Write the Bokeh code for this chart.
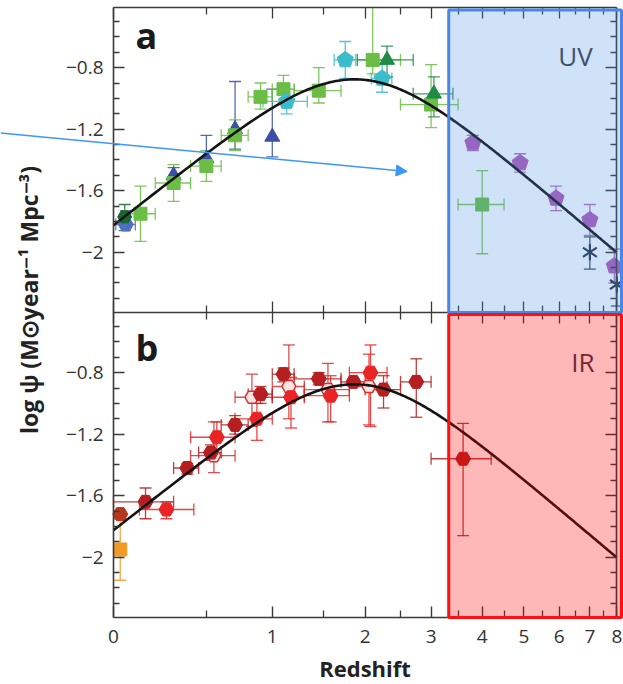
import numpy as np
from bokeh.plotting import figure
from bokeh.models import (ColumnDataSource, Whisker, TeeHead, BoxAnnotation, Label, Arrow,
                          NormalHead, FixedTicker, CustomJSTickFormatter, Range1d, LinearAxis)
from bokeh.embed import file_html
from bokeh.resources import INLINE

# ---------------- panel a: rest-frame UV measurements ----------------
wyder_z = [0.055]
wyder_zlo = [0.01]
wyder_zhi = [0.1]
wyder_v = [-1.82]
wyder_up = [0.09]
wyder_dn = [0.02]

robotham_z = [0.05]
robotham_v = [-1.77]
robotham_up = [0.08]
robotham_dn = [0.09]

schim_z = [0.3, 0.5, 0.7, 1.0]
schim_v = [-1.50, -1.39, -1.20, -1.25]
schim_up = [0.05, 0.15, 0.31, 0.31]
schim_dn = [0.05, 0.08, 0.13, 0.13]

cucc_z = [0.125, 0.3, 0.5, 0.7, 0.9, 1.1, 1.45, 2.1, 3.0, 4.0]
cucc_zlo = [0.05, 0.2, 0.4, 0.6, 0.8, 1.0, 1.2, 1.7, 2.5, 3.5]
cucc_zhi = [0.2, 0.4, 0.6, 0.8, 1.0, 1.2, 1.7, 2.5, 3.5, 4.5]
cucc_v = [-1.75, -1.55, -1.44, -1.24, -0.99, -0.94, -0.95, -0.75, -1.04, -1.69]
cucc_up = [0.18, 0.12, 0.10, 0.10, 0.09, 0.09, 0.15, 0.49, 0.26, 0.22]
cucc_dn = [0.18, 0.12, 0.10, 0.10, 0.08, 0.09, 0.08, 0.09, 0.15, 0.32]

dahlen_z = [1.13, 1.75, 2.23]
dahlen_zlo = [0.92, 1.62, 2.08]
dahlen_zhi = [1.33, 1.88, 2.37]
dahlen_v = [-1.02, -0.75, -0.87]
dahlen_err = [0.08, 0.12, 0.09]

reddy_z = [2.3, 3.05]
reddy_zlo = [1.9, 2.7]
reddy_zhi = [2.7, 3.4]
reddy_v = [-0.75, -0.97]
reddy_up = [0.09, 0.11]
reddy_dn = [0.11, 0.15]

bouwens_z = [3.8, 4.9, 5.9, 7.0, 7.9]
bouwens_v = [-1.29, -1.42, -1.65, -1.79, -2.09]
bouwens_err = [0.05, 0.06, 0.08, 0.10, 0.11]

schenker_z = [7.0, 8.0]
schenker_v = [-2.00, -2.21]
schenker_up = [0.10, 0.14]
schenker_dn = [0.11, 0.14]

# ---------------- panel b: infrared measurements ----------------
sanders_z = [0.03]
sanders_v = [-1.72]
sanders_up = [0.02]
sanders_dn = [0.03]

takeuchi_z = [0.03]
takeuchi_v = [-1.95]
takeuchi_err = [0.20]

grupp_z = [0.15, 0.38, 0.53, 0.70, 0.90, 1.10, 1.45, 1.85, 2.25, 2.75, 3.6]
grupp_zlo = [0.0, 0.3, 0.45, 0.6, 0.8, 1.0, 1.2, 1.7, 2.0, 2.5, 3.0]
grupp_zhi = [0.3, 0.45, 0.6, 0.8, 1.0, 1.2, 1.7, 2.0, 2.5, 3.0, 4.2]
grupp_v = [-1.64, -1.42, -1.32, -1.14, -0.94, -0.81, -0.84, -0.86, -0.91, -0.86, -1.36]
grupp_up = [0.09, 0.03, 0.05, 0.06, 0.05, 0.04, 0.04, 0.02, 0.09, 0.15, 0.23]
grupp_dn = [0.11, 0.04, 0.05, 0.06, 0.06, 0.05, 0.04, 0.03, 0.12, 0.23, 0.50]

mag13_z = [0.26, 0.57, 0.87, 1.17, 1.58, 2.07]
mag13_zlo = [0.12, 0.4, 0.7, 1.0, 1.3, 1.8]
mag13_zhi = [0.42, 0.7, 1.0, 1.3, 1.8, 2.3]
mag13_v = [-1.69, -1.22, -1.10, -0.96, -0.95, -0.80]
mag13_up = [0.05, 0.10, 0.10, 0.13, 0.13, 0.18]
mag13_dn = [0.06, 0.12, 0.14, 0.20, 0.17, 0.35]

mag11_z = [0.55, 0.83, 1.15, 1.55, 2.05]
mag11_zlo = [0.4, 0.7, 1.0, 1.3, 1.8]
mag11_zhi = [0.7, 1.0, 1.3, 1.8, 2.3]
mag11_v = [-1.34, -0.96, -0.89, -0.91, -0.89]
mag11_up = [0.22, 0.15, 0.27, 0.17, 0.21]
mag11_dn = [0.11, 0.19, 0.21, 0.21, 0.25]

# best-fit star-formation history: psi = A (1+z)^a / (1 + ((1+z)/b)^c)
FIT_NORM, FIT_A, FIT_B, FIT_C = 0.015, 2.7, 2.9, 5.6

z_ticks = [0, 1, 2, 3, 4, 5, 6, 7, 8]
z_minor_ticks = [0.5, 1.5, 2.5, 3.5, 4.5, 5.5, 6.5, 7.5]
y_ticks = [-2.0, -1.6, -1.2, -0.8]
y_minor_ticks = [-2.3, -2.2, -2.1, -1.9, -1.8, -1.7, -1.5, -1.4, -1.3,
                 -1.1, -1.0, -0.9, -0.7, -0.6, -0.5]

# ---------------- styling ----------------
FONT = "Open Sans"
FRAME = "#3a3a3a"
TEXT = "#333333"
C_WYDER = "#4f6fc4"
C_ROBO = "#1b6631"
C_SCHIM = "#3a4fa6"
C_CUCC = "#6bbd45"
C_DAHLEN = "#3bbccb"
C_REDDY = "#1e8c45"
C_BOUW = "#b05ab9"
C_SCHENK = "#283248"
C_GRUPP = "#b51f1f"
C_MAG13 = "#ea2424"
C_MAG11 = "#d93030"
C_SANDERS = "#b8361e"
C_TAKEUCHI = "#f39a24"
C_ARROW = "#3d98f5"

# ---------------- page geometry (pixels) ----------------
W, H = 623, 684
X0_PX = 113.0          # horizontal position of z = 0
PX_PER_DEX = 527.5     # pixels per dex of (1 + z)
PX_PER_UNIT = 153.8    # pixels per unit of log psi
A_TOP_PX, AB_PX, B_BOT_PX = 7.0, 312.0, 617.0
Y_LO, Y_HI = -2.392, -0.409   # log psi shown in each panel
Z_BOX = 3.32


def lg(z):
    return np.log10(1.0 + np.asarray(z, dtype=float))


def px_x(px):
    return (px - X0_PX) / PX_PER_DEX


def px_ya(py):
    return Y_HI - (py - A_TOP_PX) / PX_PER_UNIT


def px_yb(py):
    return Y_HI - (py - AB_PX) / PX_PER_UNIT


X_AXIS_END = float(lg(8))

p = figure(width=W, height=H,
           x_range=Range1d(px_x(0), px_x(W)),
           y_range=Range1d(px_yb(H), px_yb(0)),
           output_backend="svg", toolbar_location=None, min_border=0,
           x_axis_location=None, y_axis_location=None,
           background_fill_color="white", border_fill_color="white")
p.extra_y_ranges = {"a": Range1d(px_ya(H), px_ya(0))}
p.grid.visible = False
p.outline_line_color = None

y_fmt = CustomJSTickFormatter(code="return '\u2212' + String(Math.abs(tick));")
x_fmt = CustomJSTickFormatter(code="return String(Math.round(Math.pow(10, tick) - 1));")


def tick_axis(side, loc, positions, length, rng="default", bounds=None, line=False):
    """Unlabelled axis at a fixed location that only draws tick marks."""
    ax = LinearAxis(ticker=FixedTicker(ticks=[], minor_ticks=list(positions)),
                    fixed_location=loc, y_range_name=rng)
    ax.major_tick_in = 0
    ax.major_tick_out = 0
    ax.minor_tick_in = length
    ax.minor_tick_out = 0
    ax.minor_tick_line_color = FRAME
    ax.minor_tick_line_width = 1.3
    ax.axis_line_color = FRAME if line else None
    ax.axis_line_width = 1.6
    if bounds is not None:
        ax.bounds = bounds
    p.add_layout(ax, side)


def labelled_axis(side, loc, ticker, fmt, rng="default", bounds=None, major_len=11, minor_len=6):
    ax = LinearAxis(ticker=ticker, formatter=fmt, fixed_location=loc, y_range_name=rng)
    ax.bounds = bounds
    ax.axis_line_color = FRAME
    ax.axis_line_width = 1.6
    ax.major_tick_in = major_len
    ax.major_tick_out = 0
    ax.minor_tick_in = minor_len
    ax.minor_tick_out = 0
    ax.major_tick_line_color = FRAME
    ax.minor_tick_line_color = FRAME
    ax.major_tick_line_width = 1.4
    ax.minor_tick_line_width = 1.3
    ax.major_label_text_font = FONT
    ax.major_label_text_font_size = "19px"
    ax.major_label_text_color = TEXT
    p.add_layout(ax, side)
    return ax


x_major = list(lg(z_ticks))
x_minor = list(lg(z_minor_ticks))
x_bounds = (0.0, X_AXIS_END)
y_bounds = (Y_LO, Y_HI)

# left axes with labels, one per panel
for rng in ("a", "default"):
    ax = labelled_axis("left", 0.0, FixedTicker(ticks=y_ticks, minor_ticks=y_minor_ticks), y_fmt,
                       rng=rng, bounds=y_bounds)
    ax.major_label_standoff = 10

# right-hand tick marks
for rng in ("a", "default"):
    tick_axis("right", X_AXIS_END, y_ticks, 11, rng=rng, bounds=y_bounds, line=True)
    tick_axis("right", X_AXIS_END, y_minor_ticks, 6, rng=rng, bounds=y_bounds)

# top of panel a, shared boundary, and labelled bottom of panel b
tick_axis("above", Y_HI, x_major, 11, rng="a", bounds=x_bounds, line=True)
tick_axis("above", Y_HI, x_minor, 7, rng="a", bounds=x_bounds)
tick_axis("below", Y_LO, x_major, 11, rng="a", bounds=x_bounds, line=True)
tick_axis("below", Y_LO, x_minor, 7, rng="a", bounds=x_bounds)
tick_axis("above", Y_HI, x_major, 11, rng="default", bounds=x_bounds)
tick_axis("above", Y_HI, x_minor, 7, rng="default", bounds=x_bounds)

bottom = labelled_axis("below", Y_LO, FixedTicker(ticks=x_major, minor_ticks=x_minor), x_fmt,
                       rng="default", bounds=x_bounds, major_len=11, minor_len=7)
bottom.major_label_standoff = 13
bottom.axis_label = "Redshift"
bottom.axis_label_text_font = FONT
bottom.axis_label_text_font_style = "bold"
bottom.axis_label_text_font_size = "22px"
bottom.axis_label_text_color = "#222222"
bottom.axis_label_standoff = 6


def vbars(z, v, up, dn, color, rng):
    v = np.asarray(v, dtype=float)
    hi = v + np.asarray(up, dtype=float)
    lo = v - np.asarray(dn, dtype=float)
    x = lg(z)
    inside = hi <= Y_HI
    for mask, capped in ((inside, True), (~inside, False)):
        if not mask.any():
            continue
        src = ColumnDataSource(dict(x=x[mask], lo=lo[mask], hi=np.minimum(hi[mask], Y_HI)))
        w = Whisker(source=src, base="x", lower="lo", upper="hi", dimension="height",
                    line_color=color, line_width=1.3, line_alpha=0.85, level="underlay",
                    y_range_name=rng)
        w.lower_head = TeeHead(size=12, line_color=color, line_width=1.3, line_alpha=0.85)
        w.upper_head = (TeeHead(size=12, line_color=color, line_width=1.3, line_alpha=0.85)
                        if capped else None)
        p.add_layout(w)


def hbars(zlo, zhi, v, color, rng):
    src = ColumnDataSource(dict(y=v, lo=lg(zlo), hi=lg(zhi)))
    w = Whisker(source=src, base="y", lower="lo", upper="hi", dimension="width",
                line_color=color, line_width=1.3, line_alpha=0.85, level="underlay",
                y_range_name=rng)
    w.upper_head = TeeHead(size=12, line_color=color, line_width=1.3, line_alpha=0.85)
    w.lower_head = TeeHead(size=12, line_color=color, line_width=1.3, line_alpha=0.85)
    p.add_layout(w)


def pentagons(z, v, color, rng):
    if hasattr(p, "ngon"):
        p.ngon(x=lg(z), y=v, radius=8.5, radius_units="screen", n=5,
               fill_color=color, line_color=color, y_range_name=rng)
    else:
        p.scatter(x=lg(z), y=v, marker="hex", size=16, fill_color=color, line_color=color,
                  y_range_name=rng)


def fit_curve(rng):
    zc = np.linspace(0.0, 8.0, 400)
    psi = FIT_NORM * (1 + zc) ** FIT_A / (1 + ((1 + zc) / FIT_B) ** FIT_C)
    p.line(lg(zc), np.log10(psi), line_color="#141414", line_width=2.6, y_range_name=rng)


# ---------------- panel a (UV) ----------------
vbars(wyder_z, wyder_v, wyder_up, wyder_dn, C_WYDER, "a")
hbars(wyder_zlo, wyder_zhi, wyder_v, C_WYDER, "a")
vbars(robotham_z, robotham_v, robotham_up, robotham_dn, C_ROBO, "a")
vbars(schim_z, schim_v, schim_up, schim_dn, C_SCHIM, "a")
vbars(cucc_z, cucc_v, cucc_up, cucc_dn, C_CUCC, "a")
hbars(cucc_zlo, cucc_zhi, cucc_v, C_CUCC, "a")
vbars(dahlen_z, dahlen_v, dahlen_err, dahlen_err, C_DAHLEN, "a")
hbars(dahlen_zlo, dahlen_zhi, dahlen_v, C_DAHLEN, "a")
vbars(reddy_z, reddy_v, reddy_up, reddy_dn, C_REDDY, "a")
hbars(reddy_zlo, reddy_zhi, reddy_v, C_REDDY, "a")
vbars(bouwens_z, bouwens_v, bouwens_err, bouwens_err, C_BOUW, "a")
vbars(schenker_z, schenker_v, schenker_up, schenker_dn, C_SCHENK, "a")

p.scatter(lg(wyder_z), wyder_v, marker="hex", size=15, fill_color=C_WYDER, line_color=C_WYDER,
          y_range_name="a")
p.scatter(lg(robotham_z), robotham_v, marker="hex", size=14, fill_color=C_ROBO, line_color=C_ROBO,
          y_range_name="a")
p.scatter(lg(schim_z), schim_v, marker="triangle", size=15, fill_color=C_SCHIM, line_color=C_SCHIM,
          y_range_name="a")
p.scatter(lg(cucc_z), cucc_v, marker="square", size=13, fill_color=C_CUCC, line_color=C_CUCC,
          y_range_name="a")
pentagons(dahlen_z, dahlen_v, C_DAHLEN, "a")
p.scatter(lg(reddy_z), reddy_v, marker="triangle", size=15, fill_color=C_REDDY, line_color=C_REDDY,
          y_range_name="a")
pentagons(bouwens_z, bouwens_v, C_BOUW, "a")
for ang in (0.0, np.pi):
    p.scatter(lg(schenker_z), schenker_v, marker="y", size=16, angle=ang,
              line_color=C_SCHENK, line_width=2.2, y_range_name="a")
fit_curve("a")

# ---------------- panel b (IR) ----------------
vbars(takeuchi_z, takeuchi_v, takeuchi_err, takeuchi_err, C_TAKEUCHI, "default")
vbars(sanders_z, sanders_v, sanders_up, sanders_dn, C_SANDERS, "default")
vbars(mag11_z, mag11_v, mag11_up, mag11_dn, C_MAG11, "default")
hbars(mag11_zlo, mag11_zhi, mag11_v, C_MAG11, "default")
vbars(mag13_z, mag13_v, mag13_up, mag13_dn, C_MAG13, "default")
hbars(mag13_zlo, mag13_zhi, mag13_v, C_MAG13, "default")
vbars(grupp_z, grupp_v, grupp_up, grupp_dn, C_GRUPP, "default")
hbars(grupp_zlo, grupp_zhi, grupp_v, C_GRUPP, "default")

p.scatter(lg(takeuchi_z), takeuchi_v, marker="square", size=13, fill_color=C_TAKEUCHI,
          line_color=C_TAKEUCHI)
p.scatter(lg(sanders_z), sanders_v, marker="hex", size=15, fill_color=C_SANDERS, line_color=C_SANDERS)
p.scatter(lg(mag11_z), mag11_v, marker="hex", size=14, fill_color="#fbe4e4", line_color=C_MAG11,
          line_width=1.5)
p.scatter(lg(mag13_z), mag13_v, marker="hex", size=15, fill_color=C_MAG13, line_color=C_MAG13)
p.scatter(lg(grupp_z), grupp_v, marker="hex", size=15, fill_color=C_GRUPP, line_color=C_GRUPP)
fit_curve("default")

# ---------------- annotations ----------------
p.add_layout(Label(x=px_x(135), y=px_ya(35), y_range_name="a", text="a", text_font=FONT,
                   text_font_style="bold", text_font_size="36px", text_color="#1a1a1a",
                   text_baseline="alphabetic"))
p.add_layout(Label(x=px_x(135), y=px_yb(347), text="b", text_font=FONT,
                   text_font_style="bold", text_font_size="36px", text_color="#1a1a1a",
                   text_baseline="alphabetic"))
p.add_layout(Label(x=px_x(575), y=px_ya(55), y_range_name="a", text="UV", text_font=FONT,
                   text_font_size="26px", text_color="#3a3a48", text_align="center",
                   text_baseline="middle"))
p.add_layout(Label(x=px_x(582.5), y=px_yb(361.5), text="IR", text_font=FONT,
                   text_font_size="26px", text_color="#3a3a48", text_align="center",
                   text_baseline="middle"))

p.add_layout(BoxAnnotation(left=float(lg(Z_BOX)), right=px_x(621), top=px_ya(9.5), bottom=Y_LO,
                           y_range_name="a", fill_color="#4a90e2", fill_alpha=0.26,
                           line_color="#4a86e8", line_alpha=1.0, line_width=3))
p.add_layout(BoxAnnotation(left=float(lg(Z_BOX)), right=px_x(621), top=px_yb(314), bottom=Y_LO,
                           fill_color="#ff0000", fill_alpha=0.28,
                           line_color="#ff1010", line_alpha=1.0, line_width=3))

p.add_layout(Arrow(x_start=px_x(0), y_start=px_ya(132.4), x_end=px_x(406.7), y_end=px_ya(171),
                   y_range_name="a", line_color=C_ARROW, line_width=1.5,
                   end=NormalHead(size=11, fill_color=C_ARROW, line_color=C_ARROW)))

# shared y-axis title spanning both panels
p.add_layout(Label(x=px_x(28), y=px_yb(301.5),
                   text="log \u03c8 (M\u2299year\u207b\u00b9 Mpc\u207b\u00b3)",
                   angle=np.pi / 2, text_align="center", text_baseline="middle",
                   text_font=FONT, text_font_style="bold", text_font_size="23px",
                   text_color="#222222"))

open("out.html", "w").write(file_html(p, INLINE))
